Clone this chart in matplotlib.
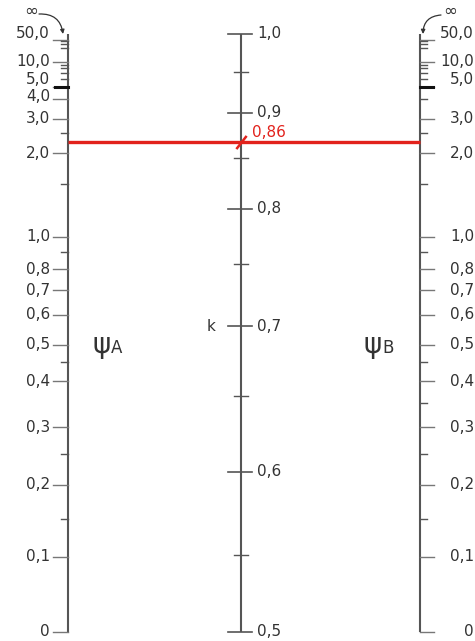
import numpy as np
import matplotlib
matplotlib.use("Agg")
import matplotlib.pyplot as plt

# psi scale ticks (outer axes), k scale ticks (middle axis)
psi_labels_a = [50.0, 10.0, 5.0, 4.0, 3.0, 2.0, 1.0, 0.8, 0.7, 0.6, 0.5, 0.4, 0.3, 0.2, 0.1, 0.0]
psi_labels_b = [50.0, 10.0, 5.0, 3.0, 2.0, 1.0, 0.8, 0.7, 0.6, 0.5, 0.4, 0.3, 0.2, 0.1, 0.0]
psi_minor_a = [40.0, 30.0, 20.0, 9.0, 8.0, 7.0, 6.0, 2.5, 1.5, 0.9, 0.45, 0.25, 0.15]
psi_minor_b = [40.0, 30.0, 20.0, 9.0, 8.0, 7.0, 6.0, 4.0, 2.5, 1.5, 0.9, 0.45, 0.35, 0.25, 0.15]
psi_bold = [5.0]
k_labels = [1.0, 0.9, 0.8, 0.7, 0.6, 0.5]
k_minor = [0.95, 0.85, 0.75, 0.65, 0.55]
k_read = 0.867        # where the red line crosses k
k_read_text = "0,86"

# crowded labels at the top are lifted a little off their ticks (pixels)
label_nudge = {50.0: -6, 5.0: -8, 4.0: -3}

RED = "#e2221c"
GREY = "#555555"
LIGHT = "#777777"
TXT = "#333333"
plt.rcParams["font.family"] = ["DejaVu Sans"]
FS = 11


def k_frac(k):
    # nonlinear k scale: 0.5 -> 0 (bottom), 1.0 -> 1 (top)
    return (2.0 - 1.0 / np.asarray(k, dtype=float)) ** 1.2


def k_braced(g):
    # braced frame, psi_A = psi_B = g  (horizontal reading of the chart)
    if g <= 0:
        return 0.5
    if np.isinf(g):
        return 1.0

    def f(k):
        x = np.pi / k
        return g * g / 4 * x * x + g * (1 - x / np.tan(x)) + 2 * np.tan(x / 2) / x - 1

    lo, hi = 0.50001, 0.99999
    for _ in range(80):
        mid = 0.5 * (lo + hi)
        if f(mid) > 0:
            lo = mid
        else:
            hi = mid
    return 0.5 * (lo + hi)


def psi_frac(g):
    return float(k_frac(k_braced(g)))


def fmt(v):
    return "0" if v == 0 else f"{v:.1f}".replace(".", ",")


def py(y):
    # picture row -> scale fraction (layout helper)
    return (632 - y) / 598


fig = plt.figure(figsize=(4.75, 6.41), dpi=100)
ax = fig.add_axes([0, 0, 1, 1])
ax.set_xlim(0, 475)
ax.set_ylim(py(641), py(0))
ax.axis("off")

XA, XK, XB = 68, 241, 420

# axis lines
for x in (XA, XK, XB):
    ax.plot([x, x], [0, 1], color=GREY, lw=1.5, solid_capstyle="butt")

# left psi axis
for v in psi_labels_a:
    y = psi_frac(v)
    ax.plot([XA - 15, XA], [y, y], color=LIGHT, lw=1.0)
    ax.text(50, y - label_nudge.get(v, 0) / 598, fmt(v), ha="right", va="center",
            fontsize=FS, color=TXT)
for v in psi_minor_a:
    y = psi_frac(v)
    ax.plot([XA - 7, XA], [y, y], color=GREY, lw=1.0)

# right psi axis
for v in psi_labels_b:
    y = psi_frac(v)
    ax.plot([XB, XB + 14], [y, y], color=LIGHT, lw=1.0)
    ax.text(474, y - label_nudge.get(v, 0) / 598, fmt(v), ha="right", va="center",
            fontsize=FS, color=TXT)
for v in psi_minor_b:
    y = psi_frac(v)
    ax.plot([XB, XB + 7], [y, y], color=GREY, lw=1.0)

for v in psi_bold:
    y = psi_frac(v)
    ax.plot([XA - 13, XA], [y, y], color="#111111", lw=2.2)
    ax.plot([XB, XB + 13], [y, y], color="#111111", lw=2.2)

# middle k axis
for v in k_labels:
    y = float(k_frac(v))
    ax.plot([XK - 13, XK + 11], [y, y], color=GREY, lw=1.2)
    ax.text(257, y, fmt(v), ha="left", va="center", fontsize=FS, color=TXT)
for v in k_minor:
    y = float(k_frac(v))
    ax.plot([XK - 7, XK + 7], [y, y], color=GREY, lw=1.0)

ax.text(211, float(k_frac(0.7)), "k", ha="center", va="center", fontsize=FS, color=TXT)

# infinity marks with hooked arrows to the axis tops
ax.text(31, py(11), "\u221e", ha="center", va="center", fontsize=12, color=TXT)
ax.annotate("", xy=(XA - 5, 1.0), xytext=(39, py(14)),
            arrowprops=dict(arrowstyle="-|>", color=TXT, lw=0.9, mutation_scale=6,
                            connectionstyle="arc3,rad=-0.45", shrinkA=0, shrinkB=0))
ax.text(450, py(11), "\u221e", ha="center", va="center", fontsize=12, color=TXT)
ax.annotate("", xy=(XB + 3, 1.0), xytext=(441, py(15)),
            arrowprops=dict(arrowstyle="-|>", color=TXT, lw=0.9, mutation_scale=6,
                            connectionstyle="arc3,rad=0.45", shrinkA=0, shrinkB=0))

# psi names
y_psi = psi_frac(0.5)
ax.text(111, y_psi, "\u03c8", ha="right", va="center", fontsize=20, color=TXT)
ax.text(111, y_psi - 3 / 598, "A", ha="left", va="center", fontsize=FS + 1, color=TXT)
ax.text(382, y_psi, "\u03c8", ha="right", va="center", fontsize=20, color=TXT)
ax.text(382, y_psi - 3 / 598, "B", ha="left", va="center", fontsize=FS + 1, color=TXT)

# red reading line
yr = float(k_frac(k_read))
ax.plot([XA, XB], [yr, yr], color=RED, lw=2.4, solid_capstyle="butt")
ax.plot([XK], [yr], marker=(2, 0, -38), markersize=12, markeredgewidth=1.8, color=RED)
ax.text(252, yr + 10 / 598, k_read_text, ha="left", va="center", fontsize=FS, color=RED)

fig.savefig("out.png", dpi=100)
